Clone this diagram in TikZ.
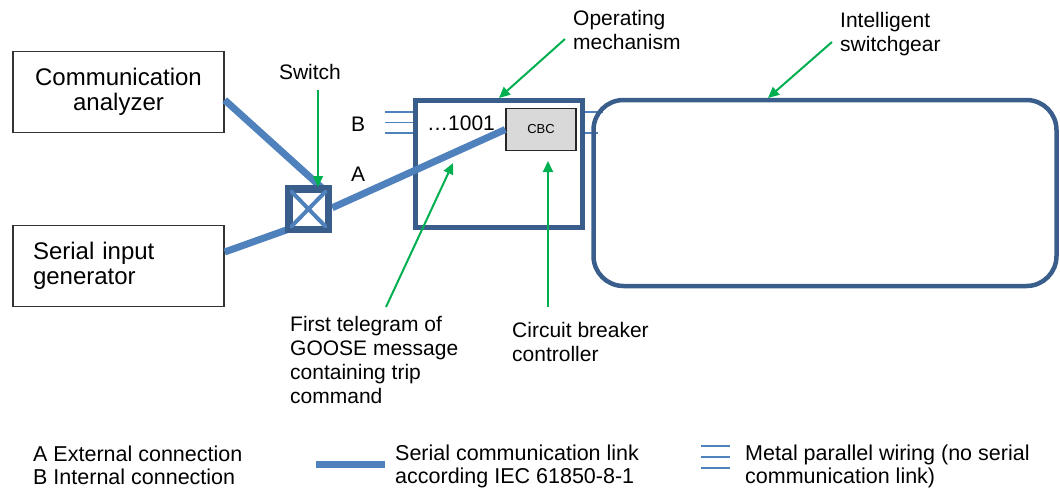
\documentclass[tikz,border=0pt]{standalone}
\usepackage{fontspec}
\setmainfont{Liberation Sans}
\usetikzlibrary{arrows.meta,calc}
\definecolor{serblue}{HTML}{4F81BD}
\definecolor{darkblue}{HTML}{3A5E8C}
\definecolor{grn}{HTML}{00B050}
\definecolor{cbcgray}{HTML}{D9D9D9}
\begin{document}
\begin{tikzpicture}[x=1pt,y=-1pt,
  devbox/.style={draw=black!80,line width=1.4pt,minimum width=211pt,minimum height=81pt,inner sep=0pt,font=\fontsize{24}{25}\selectfont},
  serial/.style={serblue,line width=7pt},
  wire/.style={serblue,line width=1.8pt},
  heavybox/.style={draw=darkblue,line width=5pt},
  garrow/.style={grn,line width=2pt,-{Triangle[length=11pt,width=10pt]}},
  lbl/.style={inner sep=0pt,align=left,font=\fontsize{21}{24}\selectfont},
  leg/.style={inner sep=0pt,align=left,font=\fontsize{21.5}{23}\selectfont}]
\useasboundingbox (0,0) rectangle (1060,491);
% devices
\node[devbox,align=center] (ca) at (118.5,92) {Communication\\analyzer};
\node[devbox,align=left,text width=171pt] (sig) at (118.5,266) {Serial input\\generator};
% switch
\node[heavybox,minimum width=37pt,minimum height=38pt,inner sep=0pt] (sw) at (308.5,209) {};
% operating mechanism
\node[heavybox,minimum width=167pt,minimum height=127pt,inner sep=0pt] (om) at (499,164) {};
% B wiring
\coordinate (b1) at (385,112);
\coordinate (b2) at (385,122.5);
\coordinate (b3) at (385,133);
\draw[wire] (b1) -- (b1 -| om.west);
\draw[wire] (b2) -- (b2 -| om.west);
\draw[wire] (b3) -- (b3 -| om.west);
% right wiring
\coordinate (r1) at (603,112);
\coordinate (r2) at (598,133);
\draw[wire] (om.east |- r1) -- (r1);
\draw[wire] (om.east |- r2) -- (r2);
% intelligent switchgear
\node[draw=darkblue,line width=4.5pt,rounded corners=30pt,minimum width=463pt,minimum height=186pt,inner sep=0pt] (isg) at (825,193) {};
% CBC
\node[draw=black!85,line width=1.5pt,fill=cbcgray,minimum width=70pt,minimum height=42pt,inner sep=0pt,font=\fontsize{13}{15}\selectfont] (cbc) at (541,129.5) {CBC};
% serial links
\draw[serial] ([yshift=-8pt]ca.east) -- ([xshift=-8pt]sw.north east);
\draw[serial] ([yshift=14pt]sig.east) -- ([xshift=3pt,yshift=2pt]sw.south west);
\draw[serial,shorten <=3pt] (sw.east) -- (cbc.west);
% X in switch
\draw[serblue,line width=4pt] (sw.north west) -- (sw.south east);
\draw[serblue,line width=4pt] (sw.north east) -- (sw.south west);
\draw[darkblue,line width=5pt] (sw.north west) rectangle (sw.south east);
% labels
\node[lbl] (swl) at (310,72) {Switch};
\node[lbl] (bl) at (358,124) {B};
\node[lbl] (al) at (358,174) {A};
\node[lbl,anchor=west] (seq) at (427,123) {…1001};
\node[lbl,anchor=north west] (oml) at (573,10) {Operating\\mechanism};
\node[lbl,anchor=north west] (isgl) at (840,12) {Intelligent\\switchgear};
\node[lbl,anchor=north west] (tgl) at (290,316) {First telegram of\\GOOSE message\\containing trip\\command};
\node[lbl,anchor=north west] (cbcl) at (512,322) {Circuit breaker\\controller};
% green arrows
\coordinate (a1s) at (318,90);   \coordinate (a1e) at (318,187);
\coordinate (a2s) at (565,39);   \coordinate (a2e) at (499,98);
\coordinate (a3s) at (832,42);   \coordinate (a3e) at (768,98);
\coordinate (a4s) at (386,307);  \coordinate (a4e) at (453,163);
\coordinate (a5s) at (548,307);  \coordinate (a5e) at (548,161);
\draw[garrow] (a1s) -- (a1e);
\draw[garrow] (a2s) -- (a2e);
\draw[garrow] (a3s) -- (a3e);
\draw[garrow] (a4s) -- (a4e);
\draw[garrow] (a5s) -- (a5e);
% legend
\node[leg,anchor=north west] (lg1) at (33,446) {A External connection\\B Internal connection};
\coordinate (ls1) at (316,464); \coordinate (ls2) at (385,464);
\draw[serial] (ls1) -- (ls2);
\node[leg,anchor=north west] (lg2) at (395,445) {Serial communication link\\according IEC 61850-8-1};
\coordinate (lw1) at (701,446); \coordinate (lw2) at (701,457); \coordinate (lw3) at (701,468);
\draw[wire] (lw1) -- ++(29,0);
\draw[wire] (lw2) -- ++(29,0);
\draw[wire] (lw3) -- ++(29,0);
\node[leg,anchor=north west] (lg3) at (745,445) {Metal parallel wiring (no serial\\communication link)};
\end{tikzpicture}
\end{document}
